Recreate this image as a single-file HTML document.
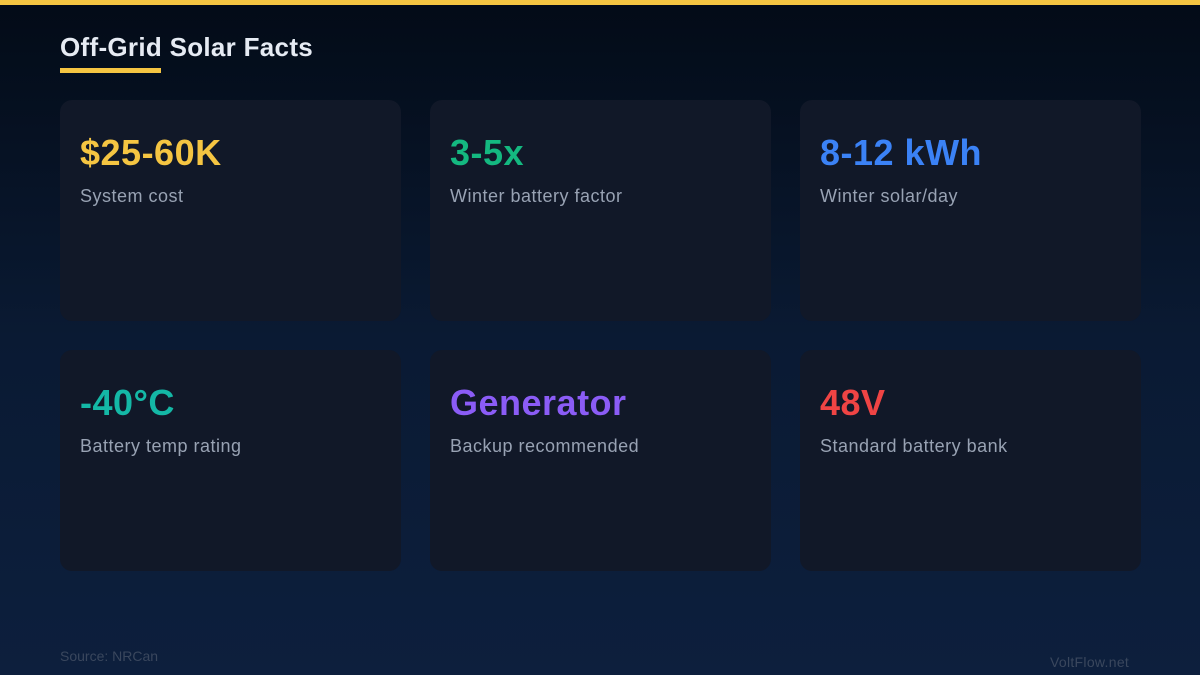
<!DOCTYPE html>
<html><head><meta charset="utf-8"><style>
*{margin:0;padding:0;box-sizing:border-box}
body{width:1200px;height:675px;overflow:hidden;position:relative;font-family:"Liberation Sans",sans-serif;background:linear-gradient(180deg,#030b17 0%,#0a1a33 50%,#0d1f3d 100%)}
.top{position:absolute;left:0;top:0;width:1200px;height:5px;background:#f5c542}
h1{position:absolute;left:60px;top:32px;font-size:26px;font-weight:bold;color:#e6ebf3;letter-spacing:0.3px}
.ul{position:absolute;left:60px;top:68px;width:101px;height:5px;background:#f5c542}
.card{position:absolute;width:341px;height:221px;background:#111828;border-radius:12px}
.v{position:absolute;left:20px;top:32px;font-size:36px;font-weight:bold;letter-spacing:0.5px}
.l{position:absolute;left:20px;top:86px;font-size:18px;color:#98a2b3;letter-spacing:0.5px}
.src{position:absolute;left:60px;top:648px;font-size:14px;color:#3a475d}
.brand{position:absolute;left:1050px;top:654px;font-size:14px;color:#3a475d;letter-spacing:0.3px}
</style></head><body>
<div class="top"></div>
<h1>Off-Grid Solar Facts</h1><div class="ul"></div>
<div class="card" style="left:60px;top:100px"><div class="v" style="color:#f5c542">$25-60K</div><div class="l">System cost</div></div>
<div class="card" style="left:430px;top:100px"><div class="v" style="color:#14b880">3-5x</div><div class="l">Winter battery factor</div></div>
<div class="card" style="left:800px;top:100px"><div class="v" style="color:#3b82f6">8-12 kWh</div><div class="l">Winter solar/day</div></div>
<div class="card" style="left:60px;top:350px"><div class="v" style="color:#14b8a6">-40°C</div><div class="l">Battery temp rating</div></div>
<div class="card" style="left:430px;top:350px"><div class="v" style="color:#8b5cf6">Generator</div><div class="l">Backup recommended</div></div>
<div class="card" style="left:800px;top:350px"><div class="v" style="color:#ef4444">48V</div><div class="l">Standard battery bank</div></div>
<div class="src">Source: NRCan</div>
<div class="brand">VoltFlow.net</div>
</body></html>
